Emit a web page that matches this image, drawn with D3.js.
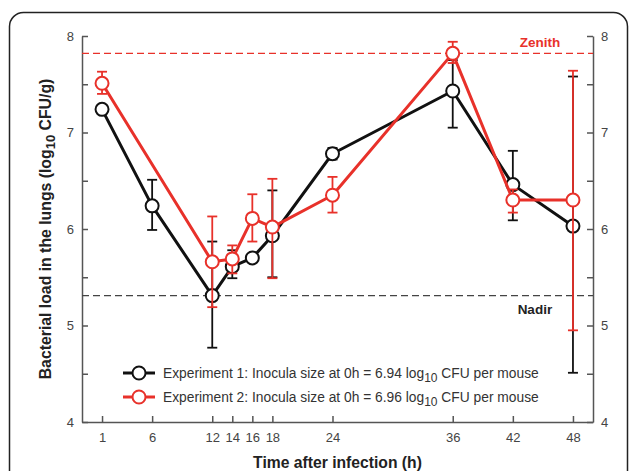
<!DOCTYPE html>
<html>
<head>
<meta charset="utf-8">
<script src="https://cdn.jsdelivr.net/npm/d3@7"></script>
<style>
  body { margin: 0; background: #fff; }
  svg { display: block; font-family: "Liberation Sans", Arial, sans-serif; }
</style>
</head>
<body>
<div id="chart"></div>
<script>
// time points (h) and log10 CFU/g readings
const times1 = [1, 6, 12, 14, 16, 18, 24, 36, 42, 48];
const mean1  = [7.24, 6.24, 5.31, 5.61, 5.70, 5.93, 6.78, 7.43, 6.46, 6.03];
const lo1    = [7.20, 5.99, 4.77, 5.49, 5.66, 5.50, 6.72, 7.05, 6.09, 4.51];
const hi1    = [7.28, 6.51, 5.87, 5.78, 5.74, 6.40, 6.84, 7.75, 6.81, 7.58];

const times2 = [1, 12, 14, 16, 18, 24, 36, 42, 48];
const mean2  = [7.51, 5.66, 5.69, 6.11, 6.02, 6.35, 7.82, 6.30, 6.30];
const lo2    = [7.40, 5.19, 5.54, 5.87, 5.49, 6.17, 7.72, 6.17, 4.95];
const hi2    = [7.63, 6.13, 5.83, 6.36, 6.52, 6.54, 7.94, 6.41, 7.64];

const xTicks = [1, 6, 12, 14, 16, 18, 24, 36, 42, 48];
const yTicks = [4, 4.5, 5, 5.5, 6, 6.5, 7, 7.5, 8];
const zenith = 7.82;
const nadir = 5.31;

const width = 629, height = 471;
const margin = {top: 36, right: 36, bottom: 49, left: 82};

const black = "#111", red = "#e8312a";

const svg = d3.select("#chart").append("svg")
    .attr("width", width)
    .attr("height", height);

// rounded frame
svg.append("rect")
    .attr("x", 9.5).attr("y", 12.5)
    .attr("width", 618).attr("height", 500)
    .attr("rx", 14)
    .attr("fill", "none")
    .attr("stroke", "#222")
    .attr("stroke-width", 1.5);

const x = d3.scaleLinear()
    .domain([-1, 50])
    .range([margin.left, width - margin.right]);

const y = d3.scaleLinear()
    .domain([4, 8])
    .range([height - margin.bottom, margin.top]);

const yFmt = d => Number.isInteger(d) ? d : "";

const styleAxis = g => {
  g.selectAll("path, line").attr("stroke", "#555").attr("stroke-width", 1.5);
  g.selectAll("text").attr("fill", "#444").attr("font-size", 13);
};

svg.append("g")
    .attr("transform", `translate(${margin.left},0)`)
    .call(d3.axisLeft(y).tickValues(yTicks).tickFormat(yFmt).tickSize(-6).tickSizeOuter(0).tickPadding(8))
    .call(styleAxis);

svg.append("g")
    .attr("transform", `translate(${width - margin.right},0)`)
    .call(d3.axisRight(y).tickValues(yTicks).tickFormat(yFmt).tickSize(-6).tickSizeOuter(0).tickPadding(8))
    .call(styleAxis);

svg.append("g")
    .attr("transform", `translate(0,${height - margin.bottom})`)
    .call(d3.axisBottom(x).tickValues(xTicks).tickSize(-6).tickSizeOuter(0).tickPadding(11))
    .call(styleAxis);

// zenith / nadir reference lines
svg.append("line")
    .attr("x1", x(-1)).attr("x2", x(50))
    .attr("y1", y(zenith)).attr("y2", y(zenith))
    .attr("stroke", red).attr("stroke-width", 1.4)
    .attr("stroke-dasharray", "7,4");
svg.append("line")
    .attr("x1", x(-1)).attr("x2", x(50))
    .attr("y1", y(nadir)).attr("y2", y(nadir))
    .attr("stroke", "#444").attr("stroke-width", 1.4)
    .attr("stroke-dasharray", "7,4");

svg.append("text")
    .attr("x", x(44.7)).attr("y", y(zenith) - 6)
    .attr("text-anchor", "middle")
    .attr("font-size", 13.5).attr("font-weight", "bold")
    .attr("fill", red)
    .text("Zenith");
svg.append("text")
    .attr("x", x(44.2)).attr("y", y(nadir) + 18)
    .attr("text-anchor", "middle")
    .attr("font-size", 13.5).attr("font-weight", "bold")
    .attr("fill", "#222")
    .text("Nadir");

const line = d3.line().x(d => x(d.t)).y(d => y(d.m));

function series(times, mean, lo, hi, color) {
  const data = times.map((t, i) => ({t, m: mean[i], lo: lo[i], hi: hi[i]}));
  const g = svg.append("g");
  g.append("path")
      .datum(data)
      .attr("d", line)
      .attr("fill", "none")
      .attr("stroke", color)
      .attr("stroke-width", 3)
      .attr("stroke-linejoin", "round");
  const eb = g.append("g")
      .attr("stroke", color)
      .attr("stroke-width", 1.8);
  eb.selectAll(".v").data(data).join("line")
      .attr("x1", d => x(d.t)).attr("x2", d => x(d.t))
      .attr("y1", d => y(d.lo)).attr("y2", d => y(d.hi));
  eb.selectAll(".lo").data(data).join("line").attr("class", "lo")
      .attr("x1", d => x(d.t) - 5).attr("x2", d => x(d.t) + 5)
      .attr("y1", d => y(d.lo)).attr("y2", d => y(d.lo));
  eb.selectAll(".hi").data(data).join("line").attr("class", "hi")
      .attr("x1", d => x(d.t) - 5).attr("x2", d => x(d.t) + 5)
      .attr("y1", d => y(d.hi)).attr("y2", d => y(d.hi));
  g.selectAll("circle").data(data).join("circle")
      .attr("cx", d => x(d.t)).attr("cy", d => y(d.m))
      .attr("r", 6.5)
      .attr("fill", "#fff")
      .attr("stroke", color)
      .attr("stroke-width", 2);
}

series(times1, mean1, lo1, hi1, black);
series(times2, mean2, lo2, hi2, red);

// legend
const legend = [
  {color: black, dose: "6.94", cy: 373},
  {color: red, dose: "6.96", cy: 397}
];
legend.forEach((l, i) => {
  const g = svg.append("g");
  g.append("line")
      .attr("x1", 123).attr("x2", 155)
      .attr("y1", l.cy).attr("y2", l.cy)
      .attr("stroke", l.color).attr("stroke-width", 3);
  g.append("circle")
      .attr("cx", 139).attr("cy", l.cy).attr("r", 6.5)
      .attr("fill", "#fff").attr("stroke", l.color).attr("stroke-width", 2);
  const t = g.append("text")
      .attr("x", 163).attr("y", l.cy + 4.5)
      .attr("font-size", 13.8).attr("fill", "#333");
  t.append("tspan").text(`Experiment ${i + 1}: Inocula size at 0h = ${l.dose} log`);
  t.append("tspan").attr("font-size", 12).attr("dy", 4).text("10");
  t.append("tspan").attr("dy", -4).text(" CFU per mouse");
});

// axis titles
const yt = svg.append("text")
    .attr("transform", `translate(51,${(margin.top + height - margin.bottom) / 2}) rotate(-90)`)
    .attr("text-anchor", "middle")
    .attr("font-size", 15.8).attr("font-weight", "bold")
    .attr("fill", "#222");
yt.append("tspan").text("Bacterial load in the lungs (log");
yt.append("tspan").attr("font-size", 13).attr("dy", 4).text("10");
yt.append("tspan").attr("dy", -4).text(" CFU/g)");

svg.append("text")
    .attr("x", (margin.left + width - margin.right) / 2)
    .attr("y", 468)
    .attr("text-anchor", "middle")
    .attr("font-size", 15.7).attr("font-weight", "bold")
    .attr("fill", "#222")
    .text("Time after infection (h)");
</script>
</body>
</html>
